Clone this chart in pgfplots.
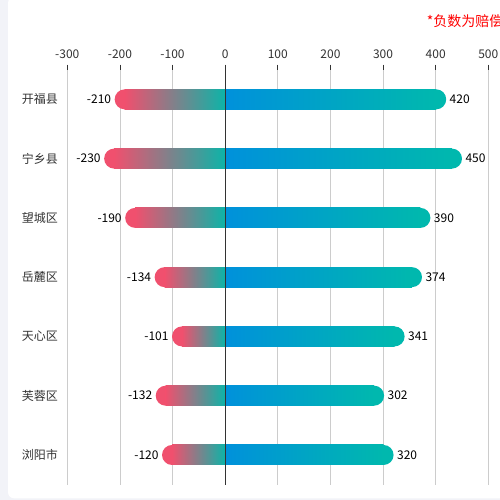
\documentclass[border=0pt]{standalone}
\usepackage{fontspec}
\setmainfont{Noto Sans CJK SC}
\usepackage{pgfplots}
\pgfplotsset{compat=1.18}

\definecolor{bgside}{HTML}{F2F3F8}
\definecolor{negA}{HTML}{F0506E}
\definecolor{negB}{HTML}{0CB4A8}
\definecolor{posA}{HTML}{0091DB}
\definecolor{posB}{HTML}{00B8AE}
\definecolor{gridc}{HTML}{CCCCCC}
\definecolor{tickc}{HTML}{333333}
\definecolor{labc}{HTML}{333333}

% cap = rounded bar in the end colour (carries the label),
% body = square gradient bar on top of it, stopping one radius short of the end
\pgfplotsset{
  barbase/.style={xbar, bar width=20pt, bar shift=0pt, draw=none},
  valnode/.style={point meta=x,
    nodes near coords={\pgfmathprintnumber[assume math mode=true]{\pgfplotspointmeta}},
    nodes near coords style={anchor=#1, text=black, font=\fontsize{12}{14}\selectfont}},
  poscap/.style={barbase, fill=posB, rounded corners=10pt, valnode=west},
  posbody/.style={barbase, left color=posA, right color=posB, middle color=posA!50!posB},
  negcap/.style={barbase, fill=negA, rounded corners=10pt, valnode=east},
  negbody/.style={barbase, left color=negA, right color=negB, middle color=negA!50!negB},
}

\begin{document}
\begin{tikzpicture}
\useasboundingbox (0,0) rectangle (500pt,500pt);
\clip (0,0) rectangle (500pt,500pt);
\fill[bgside] (0,0) rectangle (500pt,500pt);
\fill[white, rounded corners=6pt] (8pt,1.7pt) rectangle (530pt,503pt);
\node[anchor=west, inner sep=0pt, text=red, font=\fontsize{14}{14}\selectfont] at (426.7pt,479pt) {*负数为赔偿};
\begin{axis}[
  at={(67.3pt,15.4pt)}, anchor=south west,
  scale only axis, width=421pt, height=414.9pt,
  xmin=-300, xmax=500, ymin=0.5, ymax=7.5, y dir=reverse,
  xtick={-300,-200,...,500},
  xticklabels={-300,-200,-100,0,100,200,300,400,500},
  xtick pos=upper, xticklabel pos=upper,
  tick align=outside, major tick length=5pt,
  xtick style={draw=tickc, line width=0.8pt},
  ytick={1,...,7},
  yticklabels={开福县,宁乡县,望城区,岳麓区,天心区,芙蓉区,浏阳市},
  ytick style={draw=none},
  xmajorgrids, grid style={draw=gridc, line width=0.8pt},
  axis line style={draw=none},
  ticklabel style={font=\fontsize{12}{14}\selectfont, text=labc},
  xticklabel style={yshift=2.5pt},
  yticklabel style={xshift=-1pt},
  clip=false,
]
% 开福县
\addplot[poscap] coordinates {(420,1)};
\addplot[posbody] coordinates {(401,1)};
\addplot[negcap] coordinates {(-210,1)};
\addplot[negbody] coordinates {(-191,1)};
% 宁乡县
\addplot[poscap] coordinates {(450,2)};
\addplot[posbody] coordinates {(431,2)};
\addplot[negcap] coordinates {(-230,2)};
\addplot[negbody] coordinates {(-211,2)};
% 望城区
\addplot[poscap] coordinates {(390,3)};
\addplot[posbody] coordinates {(371,3)};
\addplot[negcap] coordinates {(-190,3)};
\addplot[negbody] coordinates {(-171,3)};
% 岳麓区
\addplot[poscap] coordinates {(374,4)};
\addplot[posbody] coordinates {(355,4)};
\addplot[negcap] coordinates {(-134,4)};
\addplot[negbody] coordinates {(-115,4)};
% 天心区
\addplot[poscap] coordinates {(341,5)};
\addplot[posbody] coordinates {(322,5)};
\addplot[negcap] coordinates {(-101,5)};
\addplot[negbody] coordinates {(-82,5)};
% 芙蓉区
\addplot[poscap] coordinates {(302,6)};
\addplot[posbody] coordinates {(283,6)};
\addplot[negcap] coordinates {(-132,6)};
\addplot[negbody] coordinates {(-113,6)};
% 浏阳市
\addplot[poscap] coordinates {(320,7)};
\addplot[posbody] coordinates {(301,7)};
\addplot[negcap] coordinates {(-120,7)};
\addplot[negbody] coordinates {(-101,7)};

\draw[tickc, line width=0.8pt] (axis cs:0,0.5) -- (axis cs:0,7.5);
\end{axis}
\end{tikzpicture}
\end{document}
